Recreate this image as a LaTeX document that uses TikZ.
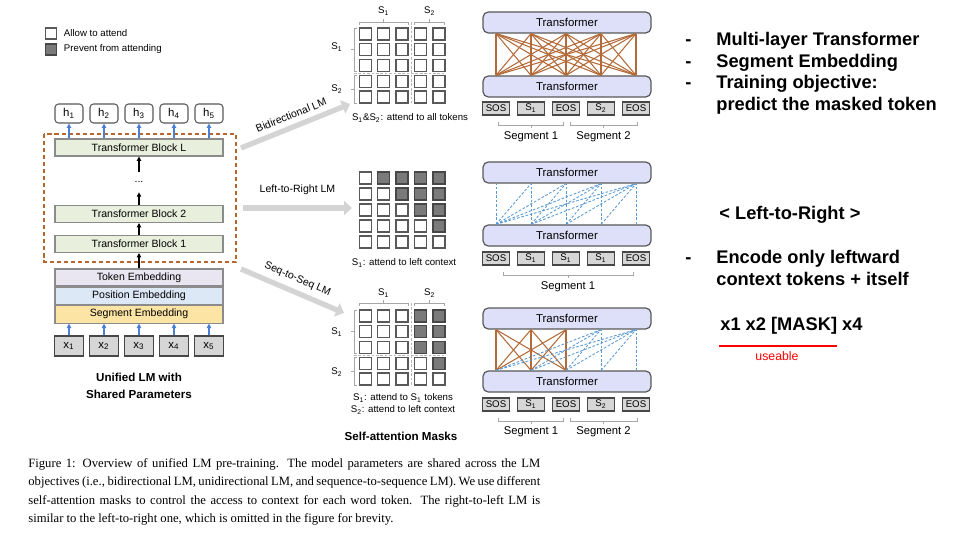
\documentclass[tikz,border=0pt]{standalone}
\usepackage{fontspec}
\setmainfont{Liberation Sans}
\newfontfamily\capfont{Liberation Serif}
\usetikzlibrary{positioning}
\usetikzlibrary{arrows.meta}

\definecolor{boxline}{HTML}{595959}
\definecolor{blockfill}{HTML}{E9EFDD}
\definecolor{tokfill}{HTML}{EAE6F1}
\definecolor{posfill}{HTML}{DDE8F6}
\definecolor{segfill}{HTML}{FCE5A4}
\definecolor{xfill}{HTML}{D6D6D6}
\definecolor{dashbrown}{HTML}{B8652E}
\definecolor{arrowblue}{HTML}{4A7FD8}
\definecolor{fatgray}{HTML}{D4D4D4}
\definecolor{darkcell}{HTML}{7A7A7A}
\definecolor{tfill}{HTML}{DEDFF9}
\definecolor{attnbrown}{HTML}{B46A38}
\definecolor{attnblue}{HTML}{5B9BD5}
\definecolor{bracegray}{HTML}{A6A6A6}

\tikzset{
  hbox/.style={draw=boxline, fill=white, rounded corners=2pt, line width=0.6pt,
    minimum width=0.56cm, minimum height=0.38cm, inner sep=0pt,
    font=\fontsize{6.5}{7}\selectfont},
  xbox/.style={draw=boxline!80!black, fill=xfill, line width=0.8pt,
    minimum width=0.58cm, minimum height=0.4cm, inner sep=0pt,
    font=\fontsize{6.5}{7}\selectfont},
  tblock/.style={draw=boxline!70, fill=blockfill, line width=0.6pt,
    minimum width=3.36cm, minimum height=0.34cm, inner sep=0pt,
    font=\fontsize{6}{7}\selectfont},
  emb/.style={draw=boxline!70, line width=0.6pt, minimum width=3.36cm,
    minimum height=0.34cm, inner sep=0pt, font=\fontsize{6}{7}\selectfont},
  blk/.style={line width=0.7pt, -{Triangle[length=2.5pt,width=2.5pt]}},
  uparrow/.style={arrowblue, line width=0.7pt, -{Triangle[length=2.5pt,width=2.5pt]}},
  fat/.style={fatgray, line width=3pt, -{Triangle[length=4.5pt,width=8pt]}},
  maskcell/.style={draw=boxline, fill=white, line width=0.7pt,
    minimum size=0.24cm, inner sep=0pt},
  maskdark/.style={maskcell, fill=darkcell, draw=boxline!80!black},
  brace/.style={bracegray, line width=0.5pt},
  sepline/.style={bracegray!80, line width=0.6pt, dash pattern=on 1.5pt off 1pt},
  mlbl/.style={font=\fontsize{5.5}{6.5}\selectfont, inner sep=0pt},
  lbl/.style={font=\fontsize{6}{7}\selectfont, inner sep=1pt, text=black},
  tbox/.style={draw=boxline, fill=tfill, rounded corners=3pt, line width=0.7pt,
    minimum width=3.36cm, minimum height=0.42cm, inner sep=0pt,
    font=\fontsize{6.5}{7}\selectfont},
  tok/.style={draw=boxline!80!black, fill=xfill, line width=0.8pt,
    minimum width=0.55cm, minimum height=0.26cm, inner sep=0pt,
    font=\fontsize{5.5}{6}\selectfont},
  seglbl/.style={font=\fontsize{6.4}{7}\selectfont, inner sep=0pt},
  attnfull/.style={attnbrown, line width=0.6pt},
  attnleft/.style={attnblue, line width=0.5pt, dash pattern=on 1.5pt off 1pt},
  rtext/.style={font=\bfseries\fontsize{10.4}{12}\selectfont, anchor=base west, inner sep=0pt},
}

\begin{document}
\begin{tikzpicture}[x=0.02cm, y=-0.02cm]
  \path[use as bounding box, fill=white] (0,0) rectangle (960,540);

  % legend
  \node[maskcell, minimum size=0.22cm] (lg1) at (51,33.5) {};
  \node[maskdark, minimum size=0.22cm] (lg2) at (51,49.5) {};
  \node[mlbl, anchor=west, right=0.13cm of lg1] (lgt1) {Allow to attend};
  \node[mlbl, anchor=west, right=0.13cm of lg2] (lgt2) {Prevent from attending};

  % unified LM
  \foreach \i in {1,...,5} {
    \node[hbox] (h\i) at ({34+35*\i},113.5) {h\textsubscript{\i}};
    \node[xbox] (x\i) at ({34+35*\i},346) {x\textsubscript{\i}};
  }
  \node[tblock] (bL) at (139,147.5) {Transformer Block L};
  \node[lbl, minimum height=0.4cm] (dots) at (139,182) {...};
  \node[tblock] (b2) at (139,214) {Transformer Block 2};
  \node[tblock] (b1) at (139,244) {Transformer Block 1};
  \node[emb, fill=tokfill] (etok) at (139,277.5) {Token Embedding};
  \node[emb, fill=posfill, below=0pt of etok] (epos) {Position Embedding};
  \node[emb, fill=segfill, below=0pt of epos, minimum height=0.36cm] (eseg) {Segment Embedding};

  \draw[dashbrown, line width=0.8pt, dash pattern=on 2.3pt off 1.7pt] (44,134) rectangle (236,262);

  \draw[blk] (b1.north) -- (b2.south);
  \draw[blk] (b2.north) -- (dots.south);
  \draw[blk] (dots.north) -- (bL.south);
  \draw[blk] (etok.north) -- (b1.south);
  \foreach \i in {1,...,5} {
    \draw[uparrow] (x\i.north) -- (x\i.north |- eseg.south);
    \draw[uparrow] (h\i.south |- bL.north) -- (h\i.south);
  }
  \node[font=\bfseries\fontsize{6.6}{9.6}\selectfont, align=center] (uni) at (139,386)
    {Unified LM with\\Shared Parameters};

  % big arrows
  \coordinate (bdS) at (241,148);
  \coordinate (bdE) at (350,104);
  \coordinate (lrS) at (243,208);
  \coordinate (lrE) at (352,208);
  \coordinate (sqS) at (241,269);
  \coordinate (sqE) at (344,313);
  \draw[fat] (bdS) -- node[lbl, sloped, above=2pt] (bdlbl) {Bidirectional LM} (bdE);
  \draw[fat] (lrS) -- node[lbl, above=5pt] (lrlbl) {Left-to-Right LM} (lrE);
  \draw[fat] (sqS) -- node[lbl, sloped, above=2pt] (sqlbl) {Seq-to-Seq LM} (sqE);

  % bidirectional mask
  \foreach \r in {1,...,5}
    \foreach \c in {1,...,5}
      \node[maskcell] (bd-\r-\c) at ({346.9+18.4*\c},{18.25+15.75*\r}) {};
  \draw[brace] (359.3,25) -- (359.3,22) -- (408.1,22) -- (408.1,25);
  \draw[brace] (383.7,22) -- (383.7,19);
  \draw[brace] (414.5,25) -- (414.5,22) -- (444.9,22) -- (444.9,25);
  \draw[brace] (429.7,22) -- (429.7,19);
  \draw[brace] (357,28) -- (354,28) -- (354,71.5) -- (357,71.5);
  \draw[brace] (354,49.75) -- (351,49.75);
  \draw[brace] (357,75.25) -- (354,75.25) -- (354,103) -- (357,103);
  \draw[brace] (354,89) -- (351,89);
  \draw[sepline] (411.3,22) -- (411.3,103);
  \draw[sepline] (354,73.4) -- (445,73.4);
  \node[mlbl] (bdt1) at (383.7,11) {S\textsubscript{1}};
  \node[mlbl] (bdt2) at (429.7,11) {S\textsubscript{2}};
  \node[mlbl] (bdl1) at (337,47) {S\textsubscript{1}};
  \node[mlbl] (bdl2) at (337,89) {S\textsubscript{2}};
  \node[mlbl] (bdcap) at (410,118) {S\textsubscript{1}\&S\textsubscript{2}: attend to all tokens};

  % left-to-right mask
  \foreach \r in {1,...,5}
    \foreach \c in {1,...,5} {
      \ifnum\c>\r
        \node[maskdark] (lr-\r-\c) at ({346.9+18.4*\c},{162+16*\r}) {};
      \else
        \node[maskcell] (lr-\r-\c) at ({346.9+18.4*\c},{162+16*\r}) {};
      \fi
    }
  \node[mlbl] (lrcap) at (404,263) {S\textsubscript{1}: attend to left context};

  % seq-to-seq mask
  \foreach \r in {1,...,5}
    \foreach \c in {1,...,5} {
      \pgfmathtruncatemacro\dk{(\r<4 && \c>3) || (\r==4 && \c==5)}
      \ifnum\dk=1
        \node[maskdark] (sq-\r-\c) at ({346.9+18.4*\c},{300.25+15.75*\r}) {};
      \else
        \node[maskcell] (sq-\r-\c) at ({346.9+18.4*\c},{300.25+15.75*\r}) {};
      \fi
    }
  \draw[brace] (359.3,306) -- (359.3,303) -- (408.1,303) -- (408.1,306);
  \draw[brace] (383.7,303) -- (383.7,300);
  \draw[brace] (414.5,306) -- (414.5,303) -- (444.9,303) -- (444.9,306);
  \draw[brace] (429.7,303) -- (429.7,300);
  \draw[brace] (357,310) -- (354,310) -- (354,353.5) -- (357,353.5);
  \draw[brace] (354,331.75) -- (351,331.75);
  \draw[brace] (357,357.25) -- (354,357.25) -- (354,385) -- (357,385);
  \draw[brace] (354,371) -- (351,371);
  \draw[sepline] (411.3,303) -- (411.3,385);
  \draw[sepline] (354,355.4) -- (445,355.4);
  \node[mlbl] (sqt1) at (383.7,293) {S\textsubscript{1}};
  \node[mlbl] (sqt2) at (429.7,293) {S\textsubscript{2}};
  \node[mlbl] (sql1) at (337,332) {S\textsubscript{1}};
  \node[mlbl] (sql2) at (337,372) {S\textsubscript{2}};
  \node[mlbl, align=center, font=\fontsize{5.5}{6.6}\selectfont] (sqcap) at (403,404)
    {S\textsubscript{1}: attend to S\textsubscript{1} tokens\\S\textsubscript{2}: attend to left context};
  \node[font=\bfseries\fontsize{6.6}{8}\selectfont] (masks) at (401,436) {Self-attention Masks};

  % transformer panel: bidirectional
  \node[tbox] (topA) at (567,22.5) {Transformer};
  \node[tbox] (botA) at (567,86.5) {Transformer};
  \foreach \lab [count=\i] in {SOS,S\textsubscript{1},EOS,S\textsubscript{2},EOS}
    \node[tok] (tokA\i) at ({461+35*\i},108.5) {\lab};
  \foreach \i in {1,...,5}
    \foreach \j in {1,...,5}
      \draw[attnfull] (botA.north -| tokA\i) -- (topA.south -| tokA\j);
  \draw[brace] (498,122) -- (498,125) -- (563,125) -- (563,122);
  \draw[brace] (531,125) -- (531,128);
  \draw[brace] (570,122) -- (570,125) -- (637,125) -- (637,122);
  \draw[brace] (603.5,125) -- (603.5,128);
  \node[seglbl] (segA1) at (531,137) {Segment 1};
  \node[seglbl] (segA2) at (603.5,137) {Segment 2};

  % transformer panel: left-to-right
  \node[tbox] (topB) at (567,172.5) {Transformer};
  \node[tbox] (botB) at (567,235.5) {Transformer};
  \foreach \lab [count=\i] in {SOS,S\textsubscript{1},S\textsubscript{1},S\textsubscript{1},EOS}
    \node[tok] (tokB\i) at ({461+35*\i},258.5) {\lab};
  \foreach \i in {1,...,5}
    \foreach \j in {\i,...,5}
      \draw[attnleft] (botB.north -| tokB\i) -- (topB.south -| tokB\j);
  \draw[brace] (503,272) -- (503,275) -- (633,275) -- (633,272);
  \draw[brace] (568,275) -- (568,278);
  \node[seglbl] (segB1) at (568,287) {Segment 1};

  % transformer panel: seq-to-seq
  \node[tbox] (topC) at (567,318.5) {Transformer};
  \node[tbox] (botC) at (567,381.5) {Transformer};
  \foreach \lab [count=\i] in {SOS,S\textsubscript{1},EOS,S\textsubscript{2},EOS}
    \node[tok] (tokC\i) at ({461+35*\i},404.5) {\lab};
  \foreach \i in {1,2,3}
    \foreach \j in {1,2,3}
      \draw[attnfull] (botC.north -| tokC\i) -- (topC.south -| tokC\j);
  \foreach \j in {4,5}
    \foreach \i in {1,...,\j}
      \draw[attnleft] (botC.north -| tokC\i) -- (topC.south -| tokC\j);
  \draw[brace] (498,418) -- (498,421) -- (563,421) -- (563,418);
  \draw[brace] (531,421) -- (531,424);
  \draw[brace] (570,418) -- (570,421) -- (637,421) -- (637,418);
  \draw[brace] (603.5,421) -- (603.5,424);
  \node[seglbl] (segC1) at (531,432) {Segment 1};
  \node[seglbl] (segC2) at (603.5,432) {Segment 2};

  % notes on the right
  \node[rtext] (d1) at (685,46) {-};
  \node[rtext] (r1) at (716,46) {Multi-layer Transformer};
  \node[rtext] (d2) at (685,67.5) {-};
  \node[rtext] (r2) at (716,67.5) {Segment Embedding};
  \node[rtext] (d3) at (685,89) {-};
  \node[rtext] (r3) at (716,89) {Training objective:};
  \node[rtext] (r4) at (716,110.5) {predict the masked token};
  \node[rtext] (r5) at (719,220) {< Left-to-Right >};
  \node[rtext] (d4) at (685,264) {-};
  \node[rtext] (r6) at (716,264) {Encode only leftward};
  \node[rtext] (r7) at (716,286) {context tokens + itself};
  \node[rtext] (r8) at (720,331) {x1 x2 [MASK] x4};
  \draw[red, line width=1.7pt] (719,346) -- (837,346);
  \node[font=\fontsize{7}{8}\selectfont, text=red, inner sep=0pt, anchor=base] (use) at (777,360) {useable};

  % caption
  \node[anchor=north west, inner sep=0pt, text width=10.24cm, align=justify,
    font=\capfont\fontsize{7.2}{10.5}\selectfont] (cap) at (28,458)
    {\hyphenpenalty=10000 Figure 1: Overview of unified LM pre-training. The model parameters are shared across the LM\linebreak
     objectives (i.e., bidirectional LM, unidirectional LM, and sequence-to-sequence LM). We use different\linebreak
     self-attention masks to control the access to context for each word token. The right-to-left LM is\linebreak
     similar to the left-to-right one, which is omitted in the figure for brevity.};
\end{tikzpicture}
\end{document}
